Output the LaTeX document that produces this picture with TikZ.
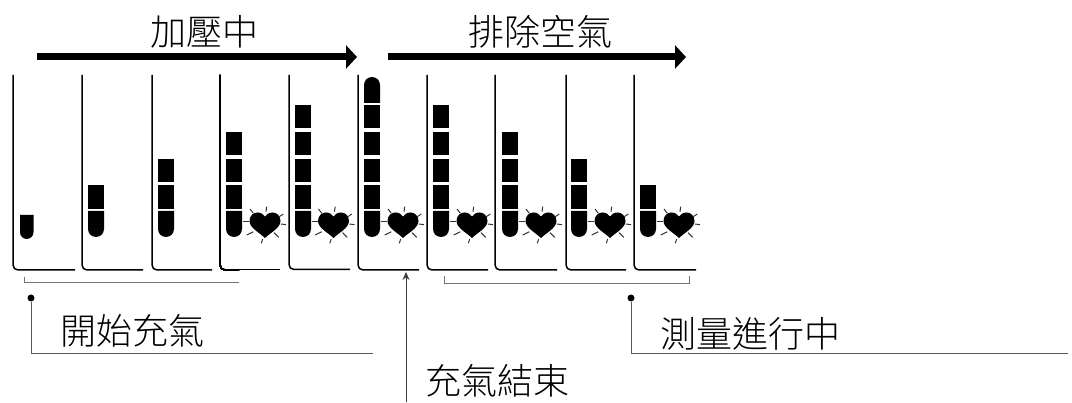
\documentclass[tikz,border=0pt]{standalone}
\usepackage{fontspec}
\newfontfamily\cjk{Noto Sans CJK TC Light}
\usetikzlibrary{arrows.meta}
\tikzset{
  framecurve/.style={line width=1.5pt,rounded corners=5pt},
  brace/.style={draw=black!55,line width=1pt},
  leader/.style={draw=black!65,line width=0.9pt},
  label/.style={font=\cjk\fontsize{36}{36}\selectfont,inner sep=0pt,anchor=west,text=black},
  bigarrow/.style={line width=7pt,-{Triangle[length=11pt,width=23pt]}},
  uparrow/.style={draw=black!75,line width=1pt,-{Stealth[length=8pt,width=7pt]}},
  dotnode/.style={circle,fill=black,inner sep=0pt,minimum size=7pt},
  ray/.style={line width=1pt,draw=black!80}
}
\newcommand{\cellframe}[2]{\draw[framecurve] (#1,75) -- (#1,270) -- (#2,270);}
\newcommand{\cellblock}[2]{% left x, level
  \ifcase#2\or\fill (#1,185) rectangle ++(16,24);
  \or\fill (#1,159) rectangle ++(16,23);
  \or\fill (#1,132) rectangle ++(16,23);
  \or\fill (#1,105) rectangle ++(16,23);\fi}
\newcommand{\tube}[1]{\fill (#1,211) -- (#1,229) arc[start angle=180,end angle=360,radius=8pt] -- ++(0,-18) -- cycle;}
\newcommand{\blink}[1]{%
  \begin{scope}[shift={(#1,225)}]
  \fill (0,13) .. controls (-5,8) and (-15.5,3) .. (-15.5,-4) .. controls (-15.5,-9.5) and (-11.5,-12.5) .. (-7.5,-12.5)
    .. controls (-4,-12.5) and (-1,-10.5) .. (0,-8.5) .. controls (1,-10.5) and (4,-12.5) .. (7.5,-12.5)
    .. controls (11.5,-12.5) and (15.5,-9.5) .. (15.5,-4) .. controls (15.5,3) and (5,8) .. (0,13) -- cycle;
  \foreach \a/\b/\c/\d in {-21.7/-3.3/-15.7/-3.3,-15/-16/-11.7/-11.7,1.7/-18.3/1/-13.3,18.3/-11/14.3/-8.3,
     16/-1/21/-0.3,9/7.7/13.7/12.3,-2.3/14/-3.7/18.3,-11.7/6.7/-18.3/10}
    \draw[ray] (\a,\b) -- (\c,\d);
  \end{scope}}
\begin{document}
\begin{tikzpicture}[x=1pt,y=-1pt]
\useasboundingbox (0,0) rectangle (1072,403);
\fill[white] (0,0) rectangle (1072,403);
% frames
\foreach \l/\r in {13/75,82/143,152/212,358/419,427/488,495/557,566/626,634/696}
  \cellframe{\l}{\r}
\draw[framecurve] (220,75) -- (220,270) -- (239,270);
\draw[line width=1pt] (239,270) -- (280,270);
\draw[line width=1.5pt,rounded corners=5pt] (289,75) -- (289,269.5) -- (350,269.5);
% first column
\fill (20,215) -- (20,232.25) arc[start angle=180,end angle=360,radius=6.75pt] -- (33.5,215) -- cycle;
% columns: left x / levels of blocks
\foreach \x/\n in {88/1,158/2,226/3,295/4,364/4,433/4,502/3,571/2,640/1}{
  \tube{\x}
  \foreach \k in {1,...,\n}{\cellblock{\x}{\k}}
}
% cap of the full column
\fill (364,103) -- (364,85) arc[start angle=180,end angle=0,radius=8pt] -- (380,103) -- cycle;
% hearts
\foreach \x in {265,333.5,403,472,541,610,679}{\blink{\x}}
% arrows and labels
\coordinate (pressA) at (37,57);
\coordinate (pressB) at (357,57);
\coordinate (ventA) at (388,57);
\coordinate (ventB) at (686,57);
\draw[bigarrow] (pressA) -- (pressB);
\draw[bigarrow] (ventA) -- (ventB);
\node[label] (lpress) at (150,32) {加壓中};
\node[label] (lvent) at (468,32) {排除空氣};
% brackets
\draw[brace] (24.5,277) |- (239,283);
\draw[brace] (444,276) |- (689,284) -- (689,276);
% callouts
\node[dotnode] (dotA) at (31,298) {};
\coordinate (endA) at (373,353);
\draw[leader] (dotA) |- (endA);
\node[label] (lstart) at (60,331) {開始充氣};
\node[dotnode] (dotB) at (631,298) {};
\coordinate (endB) at (1068,353);
\draw[leader] (dotB) |- (endB);
\node[label] (lmeasure) at (660,334) {測量進行中};
\coordinate (upA) at (406,402);
\coordinate (upB) at (406,272);
\draw[uparrow] (upA) -- (upB);
\node[label] (lend) at (425,381) {充氣結束};
\end{tikzpicture}
\end{document}
